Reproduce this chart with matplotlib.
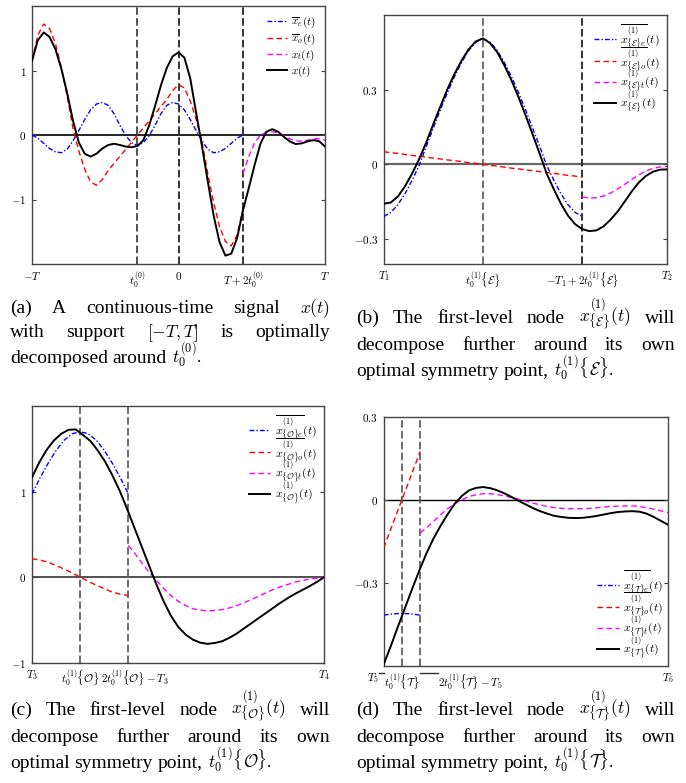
import numpy as np
import matplotlib
matplotlib.use("Agg")
import matplotlib.pyplot as plt
from matplotlib.lines import Line2D
from matplotlib.transforms import ScaledTranslation

plt.rcParams['mathtext.fontset'] = 'cm'
plt.rcParams['font.family'] = ['Liberation Serif', 'DejaVu Serif']

# ---------------- panel (a) ----------------
a_t = np.round(np.linspace(-1, 1, 51), 2)
a_t0, a_t1 = -0.28, 0.44
a_sym = a_t[:37]
a_tail = a_t[36:]
a_xe = [0.0, -0.05, -0.13, -0.21, -0.26, -0.275, -0.22, -0.09, 0.07, 0.24, 0.39, 0.48, 0.505,
        0.46, 0.33, 0.15, -0.01, -0.12, -0.165,
        -0.12, -0.01, 0.15, 0.33, 0.46, 0.505, 0.48, 0.39, 0.24, 0.07, -0.09, -0.22, -0.275,
        -0.26, -0.21, -0.13, -0.05, 0.0]
a_xo = [1.15, 1.55, 1.72, 1.65, 1.42, 1.05, 0.60, 0.10, -0.25, -0.53, -0.73, -0.78, -0.69,
        -0.55, -0.44, -0.33, -0.22, -0.11, 0.0,
        0.11, 0.22, 0.33, 0.44, 0.55, 0.69, 0.78, 0.73, 0.53, 0.25, -0.10, -0.60, -1.05,
        -1.42, -1.65, -1.72, -1.55, -1.15]
a_xt = [-0.60, -0.33, -0.12, 0.0, 0.045, 0.05, 0.035, -0.01, -0.06, -0.09, -0.095, -0.08,
        -0.06, -0.055, -0.08]
a_x = [1.15, 1.47, 1.59, 1.52, 1.33, 1.03, 0.65, 0.22, -0.12, -0.29, -0.335, -0.29, -0.21,
       -0.155, -0.135, -0.155, -0.18, -0.19, -0.17, -0.08, 0.15, 0.45, 0.77, 1.04, 1.22, 1.28,
       1.20, 0.88, 0.35, -0.17, -0.72, -1.25, -1.66, -1.87, -1.84, -1.60, -1.17, -0.82, -0.46,
       -0.13, 0.05, 0.09, 0.05, -0.03, -0.10, -0.14, -0.13, -0.10, -0.08, -0.095, -0.18]

# ---------------- panel (b) ----------------
b_t = np.round(np.linspace(0, 1, 41), 3)
b_t0, b_t1 = 0.35, 0.70
b_sym = b_t[:29]
b_tail = b_t[28:]
b_xe = [-0.209, -0.193, -0.162, -0.118, -0.064, -0.005, 0.072, 0.146, 0.22, 0.289, 0.354,
        0.41, 0.458, 0.491, 0.506, 0.491, 0.458, 0.41, 0.354, 0.289, 0.22, 0.146, 0.072,
        -0.005, -0.064, -0.118, -0.162, -0.193, -0.209]
b_xo = [0.051, 0.047, 0.044, 0.040, 0.036, 0.033, 0.029, 0.025, 0.022, 0.018, 0.015, 0.011,
        0.007, 0.004, 0.0, -0.004, -0.007, -0.011, -0.015, -0.018, -0.022, -0.025, -0.029,
        -0.033, -0.036, -0.040, -0.044, -0.047, -0.051]
b_xt = [-0.131, -0.135, -0.134, -0.127, -0.115, -0.099, -0.080, -0.060, -0.042, -0.027,
        -0.016, -0.010, -0.008]
b_x = [-0.158, -0.153, -0.129, -0.088, -0.037, 0.021, 0.088, 0.162, 0.233, 0.303, 0.364,
       0.418, 0.463, 0.494, 0.506, 0.487, 0.451, 0.399, 0.339, 0.271, 0.198, 0.121, 0.043,
       -0.038, -0.10, -0.158, -0.206, -0.24, -0.26, -0.268, -0.265, -0.249, -0.222, -0.189,
       -0.149, -0.108, -0.072, -0.046, -0.029, -0.021, -0.020]

# ---------------- panel (c) ----------------
c_t = np.round(np.linspace(0, 1, 41), 3)
c_t0, c_t1 = 0.165, 0.33
c_sym = np.round(np.linspace(0, 0.33, 13), 4)
c_tail = np.concatenate([[0.33], c_t[14:]])
c_xe = [0.97, 1.16, 1.33, 1.48, 1.60, 1.675, 1.70, 1.675, 1.60, 1.48, 1.33, 1.16, 0.97]
c_xo = [0.215, 0.20, 0.175, 0.135, 0.095, 0.048, 0.0, -0.048, -0.095, -0.135, -0.175, -0.20, -0.215]
c_xt = [0.37, 0.286, 0.17, 0.06, -0.035, -0.13, -0.215, -0.28, -0.33, -0.37, -0.385, -0.395,
        -0.39, -0.38, -0.36, -0.333, -0.30, -0.262, -0.223, -0.184, -0.145, -0.114, -0.086,
        -0.059, -0.039, -0.023, -0.012, 0.0]
c_x = [1.166, 1.342, 1.487, 1.597, 1.675, 1.722, 1.726, 1.66, 1.59, 1.48, 1.35, 1.19, 1.01,
       0.80, 0.58, 0.36, 0.14, -0.08, -0.28, -0.45, -0.58, -0.67, -0.73, -0.765, -0.78, -0.77,
       -0.75, -0.71, -0.66, -0.60, -0.54, -0.48, -0.42, -0.36, -0.30, -0.245, -0.195, -0.15,
       -0.105, -0.055, 0.0]

# ---------------- panel (d) ----------------
d_t = np.round(np.linspace(0, 1, 41), 3)
d_t0, d_t1 = 0.064, 0.128
d_sym = np.round(np.linspace(0, 0.128, 9), 3)
d_tail = np.concatenate([[0.128], d_t[6:]])
d_xe = [-0.416, -0.414, -0.412, -0.411, -0.41, -0.411, -0.412, -0.414, -0.416]
d_xo = [-0.174, -0.13, -0.087, -0.043, 0.0, 0.043, 0.087, 0.13, 0.174]
d_xt = [-0.12, -0.102, -0.078, -0.054, -0.032, -0.014, 0.0, 0.012, 0.018, 0.022, 0.022, 0.019,
        0.014, 0.008, 0.002, -0.005, -0.012, -0.018, -0.024, -0.028, -0.031, -0.032, -0.032,
        -0.032, -0.031, -0.029, -0.026, -0.024, -0.023, -0.022, -0.022, -0.024, -0.029, -0.034,
        -0.04, -0.046]
d_x = [-0.594, -0.528, -0.458, -0.39, -0.322, -0.256, -0.194, -0.14, -0.094, -0.052, -0.014,
       0.014, 0.034, 0.043, 0.046, 0.042, 0.034, 0.023, 0.01, -0.004, -0.017, -0.03, -0.041,
       -0.05, -0.058, -0.062, -0.065, -0.066, -0.065, -0.062, -0.058, -0.053, -0.048, -0.044,
       -0.042, -0.041, -0.043, -0.05, -0.062, -0.076, -0.09]

def labels(s):
    if s is None:
        return [r'$\overline{x}_e(t)$', r'$\overline{x}_o(t)$', r'$x_t(t)$', r'$x(t)$']
    sub = r'\{\mathcal{%s}\}' % s
    return [r'$\overline{x^{(1)}_{%se}}(t)$' % sub, r'$\overline{x^{(1)}_{%so}}(t)$' % sub,
            r'$x^{(1)}_{%st}(t)$' % sub, r'$x^{(1)}_{%s}(t)$' % sub]

W, H = 686, 783
fig = plt.figure(figsize=(W / 100, H / 100), dpi=100)

def make_ax(l, r, t, b):
    return fig.add_axes([l / W, 1 - b / H, (r - l) / W, (b - t) / H])

def panel(ax, ts, xe, xo, tt, xt, tx, x, lab, vl, vcols, hcol, hlw, ylim, yt, ytl, xtl, loc,
          lsize=8.5, lspace=-0.45, lpad=0.25):
    ax.axhline(0, color=hcol, lw=hlw, zorder=1)
    for v, c in zip(vl, vcols):
        ax.axvline(v, color=c, lw=1.2, dashes=(4.5, 2), zorder=1)
    ax.plot(ts, xe, color='blue', lw=1.0, dashes=(3.5, 1.5, 1, 1.5), label=lab[0], zorder=3)
    ax.plot(ts, xo, color='red', lw=1.0, dashes=(4, 2.5), label=lab[1], zorder=3)
    ax.plot(tt, xt, color='magenta', lw=1.0, dashes=(4, 2.5), label=lab[2], zorder=3)
    ax.plot(tx, x, color='black', lw=1.4, label=lab[3], zorder=4)
    ax.set_xlim(tx[0], tx[-1])
    ax.set_ylim(*ylim)
    ax.set_yticks(yt)
    ax.set_yticklabels(ytl)
    ax.set_xticks([tx[0]] + list(vl) + [tx[-1]])
    ax.set_xticklabels(xtl)
    ax.tick_params(axis='y', direction='in', left=True, right=True, length=3,
                   color='#444444', labelsize=8, pad=4)
    ax.tick_params(axis='x', length=0, labelsize=8, pad=4)
    for s in ax.spines.values():
        s.set_color('#444444')
        s.set_linewidth(1.0)
    ax.legend(loc=loc, frameon=False, fontsize=lsize, handlelength=1.8, handletextpad=0.35,
              labelspacing=lspace, borderaxespad=lpad)

ax_a = make_ax(32, 325, 6, 264)
panel(ax_a, a_sym, a_xe, a_xo, a_tail, a_xt, a_t, a_x, labels(None),
      [a_t0, 0.0, a_t1], ['#333333', '#111111', '#111111'], 'black', 1.2,
      (-2, 2), [-1, 0, 1], ['$-1$', '$0$', '$1$'],
      ['$-T$', r'$t_0^{(0)}$', '$0$', r'$T+2t_0^{(0)}$', '$T$'], 'upper right',
      lsize=8.0, lspace=0.1, lpad=0.4)

ax_b = make_ax(383.7, 667.3, 15, 264)
panel(ax_b, b_sym, b_xe, b_xo, b_tail, b_xt, b_t, b_x, labels('E'),
      [b_t0, b_t1], ['#555555', '#111111'], '#666666', 1.6,
      (-0.4, 0.6), [-0.3, 0, 0.3], ['$-0.3$', '$0$', '$0.3$'],
      ['$T_1$', r'$t_0^{(1)}\{\mathcal{E}\}$', r'$-T_1+2t_0^{(1)}\{\mathcal{E}\}$', '$T_2$'],
      'upper right')

ax_c = make_ax(32, 324.3, 406, 662.7)
panel(ax_c, c_sym, c_xe, c_xo, c_tail, c_xt, c_t, c_x, labels('O'),
      [c_t0, c_t1], ['#555555', '#555555'], '#444444', 1.3,
      (-1, 2), [-1, 0, 1], ['$-1$', '$0$', '$1$'],
      ['$T_3$', r'$t_0^{(1)}\{\mathcal{O}\}$', r'$2t_0^{(1)}\{\mathcal{O}\}-T_3$', '$T_4$'],
      'upper right')

ax_d = make_ax(383.7, 668, 416.7, 666)
panel(ax_d, d_sym, d_xe, d_xo, d_tail, d_xt, d_t, d_x, labels('T'),
      [d_t0, d_t1], ['#555555', '#555555'], 'black', 1.0,
      (-0.6, 0.3), [-0.3, 0, 0.3], ['$-0.3$', '$0$', '$0.3$'],
      ['$T_5$', r'$t_0^{(1)}\{\mathcal{T}\}$', r'$2t_0^{(1)}\{\mathcal{T}\}-T_5$', '$T_6$'],
      'lower right', lpad=0.05)

# shift crowded tick labels like in the original
def shift(lbl, dx_px, ha=None):
    lbl.set_transform(lbl.get_transform() + ScaledTranslation(dx_px / 100, 0, fig.dpi_scale_trans))
    if ha:
        lbl.set_ha(ha)

shift(ax_c.get_xticklabels()[2], 6)
shift(ax_d.get_xticklabels()[0], -5, 'right')
shift(ax_d.get_xticklabels()[2], 18, 'left')
for x0, x1 in [(379, 383.7), (420.3, 438)]:
    fig.add_artist(Line2D([x0 / W, x1 / W], [1 - 672.5 / H] * 2, color='#333333', lw=1.0))

# ---------------- captions ----------------
def caption(lines, x0, x1, baselines, size=14, msize=12.5):
    r = fig.canvas.get_renderer()
    for n, (words, yb) in enumerate(zip(lines, baselines)):
        objs = [fig.text(0, 1 - yb / H, w, fontsize=msize if w.startswith('$') else size,
                         va='baseline', ha='left') for w in words]
        widths = [o.get_window_extent(r).width for o in objs]
        if n < len(lines) - 1:
            gap = (x1 - x0 - sum(widths)) / (len(words) - 1)
        else:
            gap = size * 0.25 * fig.dpi / 72
        x = x0
        for o, w in zip(objs, widths):
            o.set_x(x / W)
            x += w + gap

caption([['(a)', 'A', 'continuous-time', 'signal', '$x(t)$'],
         ['with', 'support', '$[-T,T]$', 'is', 'optimally'],
         ['decomposed', 'around', r'$t_0^{(0)}$.']], 10, 330, [313, 337, 363])

def node_caption(s, x0, x1, base):
    caption([['(%s)' % s[0], 'The', 'first-level', 'node', r'$x^{(1)}_{\{\mathcal{%s}\}}(t)$' % s[1], 'will'],
             ['decompose', 'further', 'around', 'its', 'own'],
             ['optimal', 'symmetry', 'point,', r'$t_0^{(1)}\{\mathcal{%s}\}$.' % s[1]]], x0, x1, base)

node_caption('bE', 356, 675, [323, 350, 376])
node_caption('cO', 10, 330, [715, 742, 768])
node_caption('dT', 356, 675, [715, 742, 768])

fig.savefig('out.png', dpi=100)
